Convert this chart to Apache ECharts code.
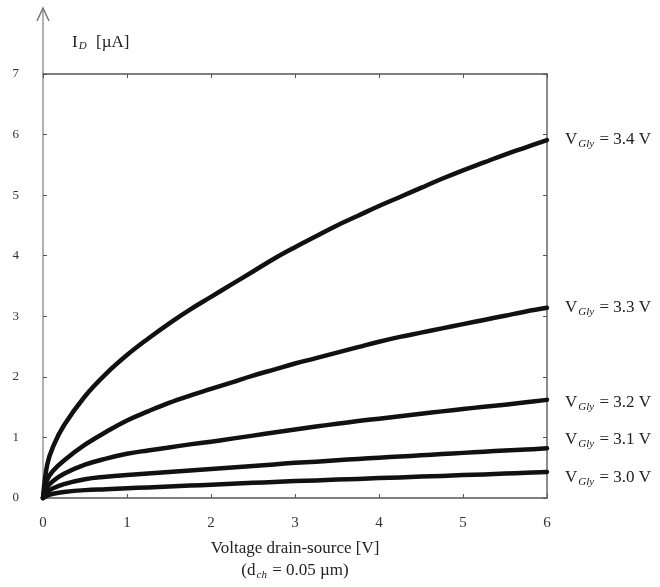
<!DOCTYPE html>
<html>
<head>
<meta charset="utf-8">
<script src="https://cdn.jsdelivr.net/npm/echarts@6/dist/echarts.min.js"></script>
<style>
html,body{margin:0;padding:0;background:#fff;}
#c{width:660px;height:587px;}
</style>
</head>
<body>
<div id="c"></div>
<script>
// ---- data ----
var xValues = [0, 0.05, 0.12, 0.25, 0.5, 0.75, 1, 1.25, 1.5, 1.75, 2, 2.25, 2.5, 2.75, 3, 3.25, 3.5, 3.75, 4, 4.25, 4.5, 4.75, 5, 5.25, 5.5, 5.75, 6];
var seriesNames = ['3.4', '3.3', '3.2', '3.1', '3.0'];
var id34 = [0, 0.55, 0.85, 1.2, 1.68, 2.05, 2.36, 2.63, 2.88, 3.11, 3.32, 3.53, 3.74, 3.95, 4.14, 4.32, 4.5, 4.66, 4.82, 4.97, 5.12, 5.27, 5.41, 5.54, 5.67, 5.79, 5.91];
var id33 = [0, 0.3, 0.45, 0.62, 0.88, 1.09, 1.28, 1.43, 1.57, 1.69, 1.8, 1.91, 2.02, 2.12, 2.22, 2.31, 2.4, 2.49, 2.58, 2.66, 2.73, 2.8, 2.87, 2.94, 3.01, 3.08, 3.14];
var id32 = [0, 0.18, 0.28, 0.4, 0.55, 0.65, 0.73, 0.785, 0.835, 0.885, 0.93, 0.98, 1.03, 1.08, 1.13, 1.18, 1.225, 1.27, 1.31, 1.35, 1.39, 1.43, 1.47, 1.505, 1.54, 1.58, 1.62];
var id31 = [0, 0.1, 0.16, 0.23, 0.31, 0.35, 0.38, 0.405, 0.43, 0.455, 0.48, 0.505, 0.53, 0.555, 0.58, 0.6, 0.625, 0.645, 0.665, 0.685, 0.705, 0.725, 0.745, 0.765, 0.785, 0.8, 0.82];
var id30 = [0, 0.04, 0.07, 0.1, 0.13, 0.145, 0.16, 0.175, 0.19, 0.205, 0.22, 0.235, 0.25, 0.265, 0.28, 0.29, 0.305, 0.315, 0.33, 0.34, 0.355, 0.365, 0.38, 0.39, 0.405, 0.415, 0.43];
var xTicks = [0, 1, 2, 3, 4, 5, 6];
var yTicks = [0, 1, 2, 3, 4, 5, 6, 7];

var seriesValues = [id34, id33, id32, id31, id30];
var labelDy = [0, 0, 3, -9, 6];

var FONT = '"Liberation Serif", "DejaVu Serif", serif';
var chart = echarts.init(document.getElementById('c'), null, {renderer: 'canvas'});

function pairs(vals) {
  return xValues.map(function (x, i) { return [x, vals[i]]; });
}

var series = seriesValues.map(function (vals, k) {
  return {
    type: 'line',
    data: pairs(vals),
    smooth: 0.4,
    showSymbol: false,
    symbol: 'none',
    clip: false,
    lineStyle: {color: '#111', width: 4.5, join: 'round', cap: 'round'},
    emphasis: {disabled: true},
    endLabel: {
      show: true,
      distance: 18,
      offset: [0, labelDy[k]],
      formatter: 'V{sub|Gly} = ' + seriesNames[k] + ' V',
      color: '#222',
      fontFamily: FONT,
      fontSize: 17,
      rich: {
        sub: {fontFamily: FONT, fontSize: 11, fontStyle: 'italic', color: '#222', padding: [9, 1, 0, 1]}
      }
    }
  };
});

var axisCommon = {
  type: 'value',
  splitLine: {show: false},
  axisTick: {show: true, inside: true, length: 4, lineStyle: {color: '#555', width: 1}}
};

var option = {
  animation: false,
  backgroundColor: '#fff',
  grid: {left: 43, right: 113, top: 74, bottom: 89, containLabel: false},
  xAxis: [
    Object.assign({}, axisCommon, {
      position: 'bottom', min: xTicks[0], max: xTicks[xTicks.length - 1], interval: 1,
      axisLine: {show: true, onZero: false, lineStyle: {color: '#555', width: 1.5}},
      axisLabel: {show: true, margin: 18, color: '#333', fontFamily: FONT, fontSize: 15},
      name: 'Voltage drain-source [V]\n(d{sub|ch} = 0.05 µm)',
      nameLocation: 'middle',
      nameGap: 40,
      nameTextStyle: {
        color: '#222', fontFamily: FONT, fontSize: 17, lineHeight: 22,
        rich: {sub: {fontFamily: FONT, fontSize: 11, fontStyle: 'italic', color: '#222', padding: [8, 1, 0, 1]}}
      }
    }),
    Object.assign({}, axisCommon, {
      position: 'top', min: xTicks[0], max: xTicks[xTicks.length - 1], interval: 1,
      axisLine: {show: true, onZero: false, lineStyle: {color: '#555', width: 1.5}},
      axisLabel: {show: false}
    })
  ],
  yAxis: [
    Object.assign({}, axisCommon, {
      position: 'left', min: yTicks[0], max: yTicks[yTicks.length - 1], interval: 1,
      axisLine: {show: true, onZero: false, lineStyle: {color: '#999', width: 1.5}},
      axisLabel: {show: true, margin: 24, color: '#333', fontFamily: FONT, fontSize: 13}
    }),
    Object.assign({}, axisCommon, {
      position: 'right', min: yTicks[0], max: yTicks[yTicks.length - 1], interval: 1,
      axisLine: {show: true, onZero: false, lineStyle: {color: '#666', width: 1.5}},
      axisLabel: {show: false}
    })
  ],
  series: series
};
chart.setOption(option);

// axis arrow and y-axis title, placed relative to the grid
var top7 = chart.convertToPixel({gridIndex: 0}, [0, yTicks[yTicks.length - 1]]);
var ax = top7[0], ay = top7[1];
chart.setOption({
  graphic: [
    {type: 'line', silent: true, shape: {x1: ax, y1: ay, x2: ax, y2: 8},
     style: {stroke: '#999', lineWidth: 1.5}},
    {type: 'polyline', silent: true, shape: {points: [[ax - 6, 21], [ax, 8], [ax + 6, 21]]},
     style: {stroke: '#777', lineWidth: 1.5, fill: null}},
    {type: 'text', silent: true, left: ax + 29, top: 34,
     style: {
       text: 'I{sub|D}  [µA]', fill: '#222', font: '17px ' + FONT,
       rich: {sub: {fontFamily: FONT, fontSize: 11, fontStyle: 'italic', fill: '#222', padding: [8, 1, 0, 1]}}
     }}
  ]
});
</script>
</body>
</html>
